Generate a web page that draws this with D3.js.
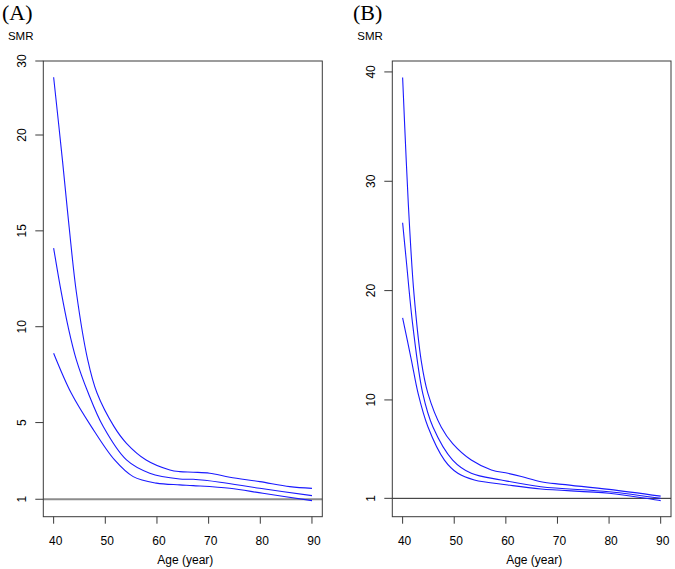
<!DOCTYPE html>
<html>
<head>
<meta charset="utf-8">
<script src="https://cdn.jsdelivr.net/npm/d3@7"></script>
<style>
  html, body { margin: 0; padding: 0; background: #fff; }
  svg text { font-family: "Liberation Sans", Arial, sans-serif; fill: #000; }
</style>
</head>
<body>
<svg id="chart" width="675" height="569"></svg>
<script>
// ---------------- Data ----------------
const panelLabels = ["(A)", "(B)"];
const yAxisTitle = "SMR";
const xAxisTitle = "Age (year)";
const xTicks = [40, 50, 60, 70, 80, 90];
const yTicksA = [1, 5, 10, 15, 20, 30];
const yTicksB = [1, 10, 20, 30, 40];
const referenceSMR = 1;

// Panel A – upper / middle / lower curves
const agesA_upper = [40, 41.7, 43, 44.4, 46.6, 48.4, 51.7, 54.1, 57.9, 62.5, 64.4, 67, 70.2, 74.1, 79.9, 85.7, 90];
const smrA_upper  = [27.8, 18.7, 15.2, 11.8, 8.27, 6.54, 4.79, 3.92, 3.05, 2.53, 2.44, 2.41, 2.36, 2.15, 1.92, 1.66, 1.57];
const agesA_mid   = [40, 41.5, 42.8, 44.4, 46.7, 49.6, 54.1, 58.6, 64.4, 67, 72.2, 79.9, 90];
const smrA_mid    = [14.1, 11.76, 10.0, 8.27, 6.54, 4.79, 3.05, 2.36, 2.06, 2.04, 1.89, 1.57, 1.19];
const agesA_lower = [40, 43.4, 47.3, 51.8, 55.4, 59.9, 64.4, 67, 74.1, 80.5, 90];
const smrA_lower  = [8.62, 6.54, 4.79, 3.05, 2.18, 1.84, 1.75, 1.71, 1.57, 1.31, 0.93];

// Panel B – upper / middle / lower curves
const agesB_upper = [40, 40.7, 41.35, 42.2, 43.6, 44.9, 47.5, 49.7, 53.3, 57.2, 60.4, 63, 66.8, 70.9, 80, 90];
const smrB_upper  = [39.5, 31.9, 25.8, 19.7, 13.6, 10.6, 7.5, 6.0, 4.5, 3.6, 3.29, 3.0, 2.52, 2.28, 1.82, 1.2];
const agesB_mid   = [40, 40.7, 42, 43.9, 45.9, 49.7, 53.3, 59.1, 66.8, 80, 90];
const smrB_mid    = [26.2, 22.8, 16.7, 10.6, 7.5, 4.5, 3.29, 2.68, 2.06, 1.6, 1.0];
const agesB_lower = [40, 41.7, 43, 44.9, 48.1, 50.7, 53.9, 60.4, 66.8, 80, 90];
const smrB_lower  = [17.5, 13.65, 10.6, 7.55, 4.5, 3.29, 2.68, 2.22, 1.85, 1.46, 0.79];

// ---------------- Layout ----------------
const svg = d3.select("#chart");
const plotTop = 61, plotBottom = 516.7;

const panels = [
  {
    label: panelLabels[0], labelX: 2, smrX: 20.7, tickLabelX: 21.7,
    left: 43.3, right: 322.3,
    // piecewise y scale (axis is compressed above 20)
    yDomain: [0.09, 20, 30], yRangeFn: (b, t) => [b, 135, t],
    yTicks: yTicksA, refColor: "#8c8c8c", refWidth: 2,
    series: [[agesA_upper, smrA_upper], [agesA_mid, smrA_mid], [agesA_lower, smrA_lower]]
  },
  {
    label: panelLabels[1], labelX: 353, smrX: 370, tickLabelX: 371,
    left: 392.3, right: 671,
    yDomain: [-0.68, 41.0], yRangeFn: (b, t) => [b, t],
    yTicks: yTicksB, refColor: "#222", refWidth: 1,
    series: [[agesB_upper, smrB_upper], [agesB_mid, smrB_mid], [agesB_lower, smrB_lower]]
  }
];

panels.forEach(p => {
  const g = svg.append("g");
  const x = d3.scaleLinear().domain([38, 92]).range([p.left, p.right]);
  const y = d3.scaleLinear().domain(p.yDomain).range(p.yRangeFn(plotBottom, plotTop));

  // panel label
  g.append("text").attr("x", p.labelX).attr("y", 19.5)
    .style("font-family", "'Liberation Serif', 'DejaVu Serif', serif")
    .style("font-size", "22px").text(p.label);

  // SMR title
  g.append("text").attr("x", p.smrX).attr("y", 39.5)
    .attr("text-anchor", "middle").style("font-size", "11.5px").text(yAxisTitle);

  // clip
  const clipId = "clip" + p.label.replace(/\W/g, "");
  svg.append("clipPath").attr("id", clipId).append("rect")
    .attr("x", p.left).attr("y", plotTop).attr("width", p.right - p.left).attr("height", plotBottom - plotTop);

  // reference line at SMR = 1
  g.append("line")
    .attr("x1", p.left).attr("x2", p.right)
    .attr("y1", y(referenceSMR)).attr("y2", y(referenceSMR))
    .attr("stroke", p.refColor).attr("stroke-width", p.refWidth);

  // curves
  const line = d3.line().x(d => x(d[0])).y(d => y(d[1])).curve(d3.curveCatmullRom.alpha(0.5));
  p.series.forEach(([ages, vals]) => {
    const pts = ages.map((a, i) => [a, vals[i]]);
    g.append("path").datum(pts)
      .attr("clip-path", `url(#${clipId})`)
      .attr("d", line).attr("fill", "none")
      .attr("stroke", "#1a1aff").attr("stroke-width", 1.1);
  });

  // box
  g.append("rect").attr("x", p.left).attr("y", plotTop)
    .attr("width", p.right - p.left).attr("height", plotBottom - plotTop)
    .attr("fill", "none").attr("stroke", "#3a3a3a").attr("stroke-width", 1);

  // x axis ticks + labels
  xTicks.forEach(t => {
    g.append("line").attr("x1", x(t)).attr("x2", x(t))
      .attr("y1", plotBottom).attr("y2", plotBottom + 7)
      .attr("stroke", "#3a3a3a").attr("stroke-width", 1);
    g.append("text").attr("x", x(t) + 2).attr("y", 545)
      .attr("text-anchor", "middle").style("font-size", "12px").text(t);
  });
  g.append("text").attr("x", (p.left + p.right) / 2 + 2.5).attr("y", 563.5)
    .attr("text-anchor", "middle").style("font-size", "12px").text(xAxisTitle);

  // y axis ticks + labels
  p.yTicks.forEach(t => {
    g.append("line").attr("x1", p.left - 8).attr("x2", p.left)
      .attr("y1", y(t)).attr("y2", y(t))
      .attr("stroke", "#3a3a3a").attr("stroke-width", 1);
    g.append("text")
      .attr("transform", `translate(${p.tickLabelX + 4.3},${y(t)}) rotate(-90)`)
      .attr("text-anchor", "middle").style("font-size", "12px").text(t);
  });
});
</script>
</body>
</html>
